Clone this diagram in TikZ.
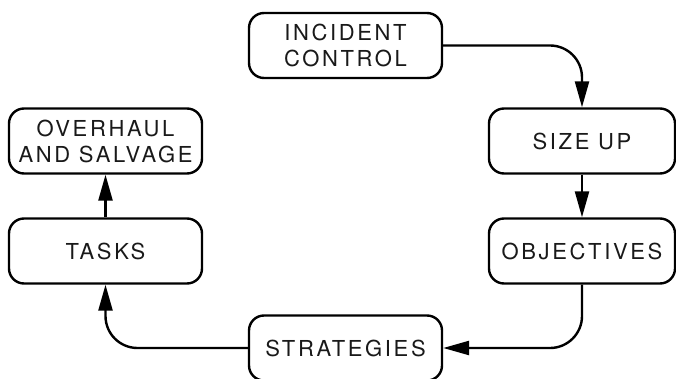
\documentclass[tikz,border=0pt]{standalone}
\usepackage{fontspec}
\setmainfont{TeX Gyre Heros}[LetterSpace=12]
\usetikzlibrary{arrows.meta}
\begin{document}
\begin{tikzpicture}[x=1pt,y=-1pt,
  stage/.style={draw=black, line width=2.4pt, rounded corners=15pt,
    minimum height=65pt, inner sep=0pt, align=center,
    font=\fontsize{22}{26}\selectfont, text=black!90},
  wide/.style={stage, minimum width=193pt},
  narrow/.style={stage, minimum width=186pt},
  flow/.style={line width=2.4pt, -{Triangle[length=26pt,width=14pt]}},
  curvedflow/.style={flow, rounded corners=32pt}]
  \useasboundingbox (0,0) rectangle (676,379);

  % the six stages of the cycle
  \node[wide]   (inc)   at (345.5,45.5) {INCIDENT\\CONTROL};
  \node[narrow] (size)  at (582,141)    {SIZE UP};
  \node[narrow] (obj)   at (582,251)    {OBJECTIVES};
  \node[wide]   (str)   at (345.5,348)  {STRATEGIES};
  \node[wide]   (tasks) at (105.5,251)  {TASKS};
  \node[wide]   (over)  at (105.5,141)  {OVERHAUL\\AND SALVAGE};

  % connectors between stages
  \draw[curvedflow] (inc.east) -| (size.north);
  \draw[flow] (size.south) -- (obj.north);
  \draw[curvedflow] (obj.south) |- (str.east);
  \draw[curvedflow] (str.west) -| (tasks.south);
  \draw[flow] (tasks.north) -- (over.south);
\end{tikzpicture}
\end{document}
